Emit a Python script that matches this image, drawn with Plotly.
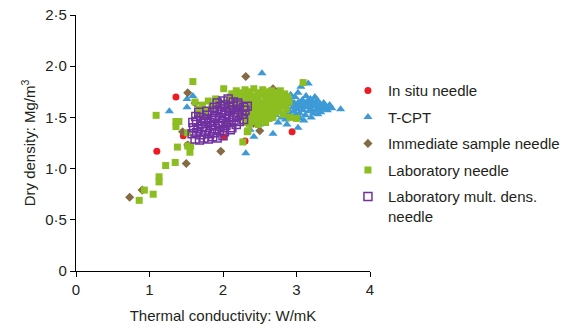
import plotly.graph_objects as go

# In situ needle
insitu_x = [1.10, 1.36, 1.46, 1.52, 2.01, 2.30, 2.84, 2.94]
insitu_y = [1.17, 1.70, 1.32, 1.23, 1.31, 1.27, 1.52, 1.36]

# T-CPT
tcpt_x = [1.27, 1.51, 1.51, 1.59, 1.95, 2.53, 2.31, 2.42, 2.37, 2.50, 2.68, 2.87, 3.02, 3.16, 3.06, 3.60, 2.47, 2.62, 2.75,
          2.62, 2.66, 2.70, 2.72, 2.75, 2.78, 2.80, 2.82, 2.84, 2.86, 2.88, 2.90, 2.91, 2.93, 2.95, 2.96, 2.98, 3.00,
          3.01, 3.03, 3.04, 3.06, 3.08, 3.09, 3.11, 3.12, 3.14, 3.15, 3.17, 3.18, 3.20, 3.22, 3.23, 3.25, 3.27, 3.28,
          3.30, 3.32, 3.33, 3.35, 3.37, 3.40, 3.42, 3.45, 3.48, 2.85, 2.95, 3.05, 3.10, 3.20, 2.70, 2.80, 2.92, 3.02,
          3.13, 3.25, 2.65, 2.76, 2.97, 3.07, 3.16, 3.26, 3.38, 2.89, 2.99, 3.19, 3.29]
tcpt_y = [1.56, 1.68, 1.60, 1.71, 1.67, 1.93, 1.15, 1.31, 1.38, 1.43, 1.34, 1.43, 1.40, 1.83, 1.80, 1.58, 1.69, 1.48, 1.45,
          1.60, 1.55, 1.63, 1.52, 1.58, 1.66, 1.50, 1.61, 1.55, 1.68, 1.58, 1.63, 1.53, 1.66, 1.60, 1.56, 1.70, 1.62,
          1.58, 1.65, 1.54, 1.60, 1.67, 1.57, 1.63, 1.52, 1.60, 1.66, 1.56, 1.62, 1.58, 1.65, 1.54, 1.61, 1.57, 1.67,
          1.60, 1.63, 1.55, 1.59, 1.64, 1.61, 1.57, 1.62, 1.59, 1.48, 1.50, 1.49, 1.47, 1.50, 1.70, 1.73, 1.72, 1.74,
          1.71, 1.70, 1.66, 1.62, 1.64, 1.62, 1.64, 1.64, 1.58, 1.65, 1.53, 1.68, 1.53]

# Immediate sample needle
imm_x = [0.73, 0.90, 1.50, 1.52, 1.97, 1.52, 2.31, 2.41, 2.50, 2.68, 1.62, 1.45, 2.20, 2.62, 2.04]
imm_y = [0.72, 0.79, 1.05, 1.74, 1.17, 1.23, 1.90, 1.44, 1.37, 1.78, 1.64, 1.36, 1.55, 1.62, 1.45]

# Laboratory needle
lab_x = [0.86, 0.93, 1.05, 1.13, 1.13, 1.22, 1.35, 1.38, 1.52, 1.55, 1.56, 1.52, 1.36, 1.36, 1.40, 1.09, 1.59, 2.01,
         2.12, 1.62, 2.33, 2.27, 3.09, 3.00, 2.91, 2.34,
         1.68, 1.72, 1.76, 1.80, 1.85, 1.74, 1.66, 1.90, 1.95,
         2.18, 2.24, 2.30, 2.36, 2.42, 2.48, 2.54, 2.60, 2.66, 2.72, 2.78, 2.84,
         2.10, 2.16, 2.22, 2.28, 2.34, 2.40, 2.46, 2.52, 2.58, 2.64, 2.70, 2.76, 2.82, 2.88,
         2.05, 2.12, 2.18, 2.24, 2.30, 2.36, 2.42, 2.48, 2.54, 2.60, 2.66, 2.72, 2.78, 2.84, 2.90,
         2.08, 2.14, 2.20, 2.26, 2.32, 2.38, 2.44, 2.50, 2.56, 2.62, 2.68, 2.74, 2.80, 2.86,
         2.22, 2.28, 2.34, 2.40, 2.46, 2.52, 2.58, 2.64, 2.70, 2.76, 2.82,
         2.26, 2.32, 2.38, 2.44, 2.50, 2.56, 2.62, 2.68,
         2.30, 2.36, 2.42, 2.48, 2.58]
lab_y = [0.69, 0.79, 0.75, 0.92, 0.87, 1.03, 1.06, 1.21, 1.22, 1.16, 1.22, 1.35, 1.46, 1.41, 1.46, 1.52, 1.85, 1.78,
         1.73, 1.65, 1.36, 1.26, 1.84, 1.49, 1.50, 1.37,
         1.58, 1.62, 1.56, 1.66, 1.60, 1.52, 1.54, 1.68, 1.62,
         1.76, 1.74, 1.77, 1.75, 1.78, 1.74, 1.77, 1.75, 1.76, 1.74, 1.76, 1.73,
         1.70, 1.71, 1.69, 1.72, 1.70, 1.71, 1.69, 1.72, 1.70, 1.71, 1.69, 1.71, 1.69, 1.70,
         1.65, 1.66, 1.64, 1.66, 1.65, 1.64, 1.66, 1.65, 1.64, 1.66, 1.65, 1.64, 1.66, 1.64, 1.65,
         1.60, 1.61, 1.59, 1.61, 1.60, 1.59, 1.61, 1.60, 1.59, 1.61, 1.60, 1.59, 1.61, 1.58,
         1.55, 1.56, 1.54, 1.56, 1.55, 1.54, 1.56, 1.55, 1.54, 1.56, 1.53,
         1.50, 1.49, 1.51, 1.50, 1.48, 1.51, 1.49, 1.50,
         1.45, 1.44, 1.46, 1.43, 1.45]

# Laboratory mult. dens. needle
mult_x = [1.62, 1.68, 1.74, 1.80, 1.86, 1.92, 2.00,
          1.58, 1.64, 1.70, 1.76, 1.82, 1.88, 1.95, 2.02, 2.10,
          1.60, 1.66, 1.72, 1.78, 1.84, 1.90, 1.96, 2.04, 2.12, 2.18,
          1.59, 1.64, 1.70, 1.76, 1.82, 1.88, 1.94, 2.00, 2.08, 2.15, 2.22, 2.28,
          1.63, 1.70, 1.78, 1.84, 1.90, 1.96, 2.02, 2.08, 2.14, 2.20, 2.26,
          1.67, 1.78, 1.86, 1.92, 1.98, 2.04, 2.10, 2.16, 2.22, 2.30,
          1.88, 1.96, 2.02, 2.08, 2.14, 2.20, 2.28, 2.33,
          1.92, 2.00, 2.07, 2.14, 2.20]
mult_y = [1.29, 1.28, 1.30, 1.29, 1.31, 1.30, 1.32,
          1.34, 1.35, 1.33, 1.36, 1.34, 1.35, 1.37, 1.36, 1.38,
          1.40, 1.39, 1.41, 1.40, 1.42, 1.39, 1.41, 1.42, 1.40, 1.43,
          1.45, 1.46, 1.44, 1.46, 1.45, 1.47, 1.44, 1.46, 1.45, 1.47, 1.46, 1.48,
          1.51, 1.50, 1.52, 1.49, 1.51, 1.50, 1.52, 1.51, 1.50, 1.52, 1.53,
          1.55, 1.56, 1.55, 1.57, 1.55, 1.56, 1.57, 1.55, 1.58, 1.57,
          1.60, 1.61, 1.62, 1.60, 1.61, 1.62, 1.60, 1.61,
          1.64, 1.66, 1.68, 1.65, 1.64]

x_ticks = [0, 1, 2, 3, 4]
x_ticktext = ["0", "1", "2", "3", "4"]
y_ticks = [0, 0.5, 1.0, 1.5, 2.0, 2.5]
y_ticktext = ["0", "0·5", "1·0", "1·5", "2·0", "2·5"]

FONT = "Liberation Sans, Arial, sans-serif"
TXT = "#231f20"

fig = go.Figure()
fig.add_trace(go.Scatter(x=insitu_x, y=insitu_y, mode="markers", name="In situ needle", legendgroup="a",
                         marker=dict(symbol="circle", size=7, color="#ed1c24")))
fig.add_trace(go.Scatter(x=tcpt_x, y=tcpt_y, mode="markers", name="T-CPT", legendgroup="b",
                         marker=dict(symbol="triangle-up", size=8, color="#3d9ad6")))
fig.add_trace(go.Scatter(x=imm_x, y=imm_y, mode="markers", name="Immediate sample needle", legendgroup="c",
                         marker=dict(symbol="diamond", size=7, color="#846a45")))
fig.add_trace(go.Scatter(x=lab_x, y=lab_y, mode="markers", name="Laboratory needle", legendgroup="d",
                         marker=dict(symbol="square", size=7, color="#8cbe22")))
fig.add_trace(go.Scatter(x=mult_x, y=mult_y, mode="markers", name="Laboratory mult. dens.<br>needle", legendgroup="e",
                         marker=dict(symbol="square-open", size=8, color="#7030a0", line=dict(width=1.5))))

axis_common = dict(showline=True, linecolor="black", linewidth=1.2, ticks="outside", ticklen=5,
                   tickcolor="black", showgrid=False, zeroline=False, ticklabeloverflow="allow",
                   tickfont=dict(family=FONT, size=15, color=TXT))

fig.update_xaxes(range=[0, 4], tickvals=x_ticks, ticktext=x_ticktext,
                 title=dict(text="Thermal conductivity: W/mK", font=dict(family=FONT, size=15, color=TXT), standoff=13),
                 **axis_common)
fig.update_yaxes(range=[0, 2.5], tickvals=y_ticks, ticktext=y_ticktext,
                 title=dict(text="Dry density: Mg/m<sup>3</sup>", font=dict(family=FONT, size=15, color=TXT), standoff=5),
                 **axis_common)

# page body adds 8px, so the figure is 8px smaller and shifted margins
fig.update_layout(
    width=564, height=324,
    margin=dict(l=68, r=202, t=7, b=61, autoexpand=False),
    plot_bgcolor="white", paper_bgcolor="white",
    font=dict(family=FONT, size=15, color=TXT),
    legend=dict(x=0.925, xanchor="left", y=0.769, yanchor="top", traceorder="grouped",
                tracegroupgap=4, valign="top", font=dict(family=FONT, size=15, color=TXT),
                itemwidth=30, bgcolor="rgba(0,0,0,0)"),
)

fig.write_html("out.html")
